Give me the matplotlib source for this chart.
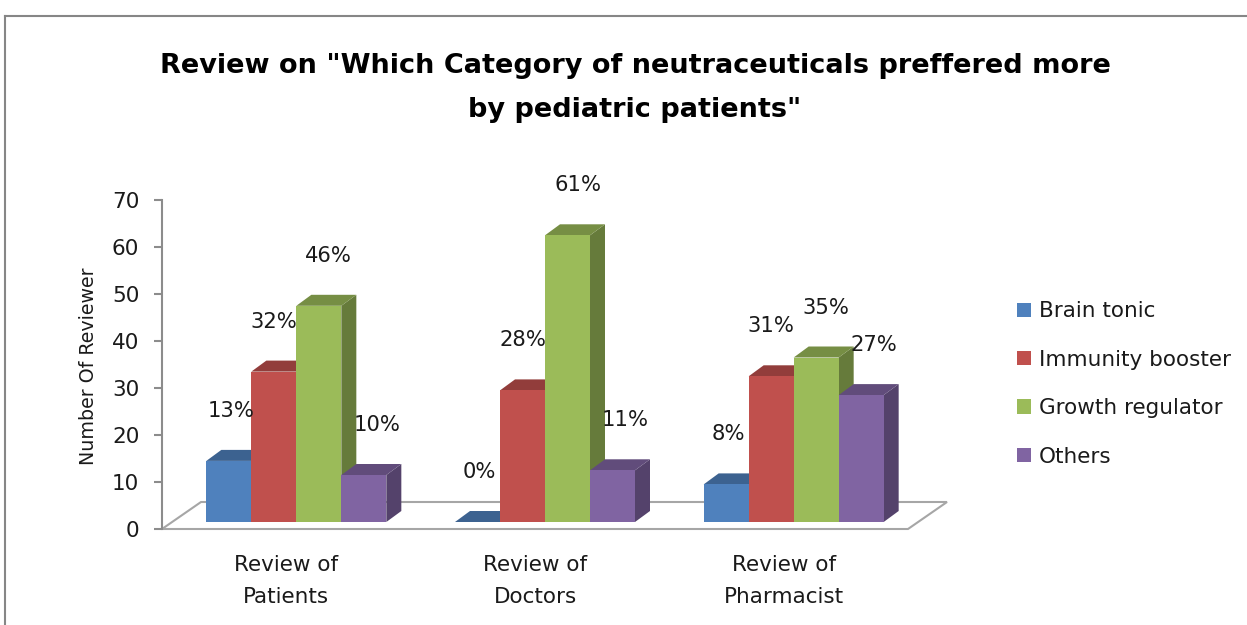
"""Review chart: which category of nutraceuticals is preferred by pediatric patients.

Excel-style 3D clustered columns, faked in 2D: front face via ax.bar, then
top and side faces as parallelograms offset by a fixed pixel depth.
"""

import matplotlib

matplotlib.use("Agg")
import matplotlib.pyplot as plt
from matplotlib.lines import Line2D
from matplotlib.patches import Patch

categories = ["Review of\nPatients", "Review of\nDoctors", "Review of\nPharmacist"]
series_names = ["Brain tonic", "Immunity booster", "Growth regulator", "Others"]
brain_tonic = [13, 0, 8]
immunity_booster = [32, 28, 31]
growth_regulator = [46, 61, 35]
others = [10, 11, 27]
series_values = [brain_tonic, immunity_booster, growth_regulator, others]

title_lines = ['Review on "Which Category of neutraceuticals preffered more',
               'by pediatric patients"']
y_label = "Number Of Reviewer"

colors = ["#4F81BD", "#C0504D", "#9BBB59", "#8064A2"]

W, H = 1247, 625
plt.rcParams["font.family"] = "DejaVu Sans"


def shade(hex_color, k):
    r, g, b = (int(hex_color[i:i + 2], 16) for i in (1, 3, 5))
    return (r * k / 255, g * k / 255, b * k / 255)


fig = plt.figure(figsize=(W / 100, H / 100), dpi=100)
ax = fig.add_axes([162 / W, (H - 529) / H, 746 / W, 329 / H])
ax.set_xlim(-0.5, 2.5)
ax.set_ylim(0, 70)

# pixel -> data units
ux = 3 / 746
uy = 70 / 329

bar_w = 45 * ux
shift = 10 * ux
base = 7 * uy
dx, dy = 15 * ux, 11 * uy
fdx, fdy = 39 * ux, 27 * uy

# floor
ax.fill([-0.5, 2.5, 2.5 + fdx, -0.5 + fdx], [0, 0, fdy, fdy],
        facecolor="white", edgecolor="#A6A6A6", lw=1.5, zorder=1, clip_on=False)

label_dx = [2, 0, 10, 13]
for j, (vals, c) in enumerate(zip(series_values, colors)):
    lefts = [i + shift + (j - 2) * bar_w for i in range(len(categories))]
    z = 3 + j
    ax.bar(lefts, vals, width=bar_w, bottom=base, align="edge", color=c,
           edgecolor="none", zorder=z + 0.02)
    for x0, v in zip(lefts, vals):
        top = base + v
        ax.fill([x0 + bar_w, x0 + bar_w + dx, x0 + bar_w + dx, x0 + bar_w],
                [base, base + dy, top + dy, top],
                color=shade(c, 0.66), lw=0, zorder=z)
        ax.fill([x0, x0 + bar_w, x0 + bar_w + dx, x0 + dx],
                [top, top, top + dy, top + dy],
                color=shade(c, 0.76), lw=0, zorder=z + 0.01)
        ax.annotate(f"{v}%", xy=(x0 + bar_w / 2, top),
                    xytext=(label_dx[j], 50), textcoords="offset pixels",
                    ha="center", va="center", fontsize=15.2, color="#1a1a1a",
                    zorder=10)

for s in ["top", "right", "bottom"]:
    ax.spines[s].set_visible(False)
ax.spines["left"].set_color("#8C8C8C")
ax.spines["left"].set_linewidth(1.5)
ax.spines["left"].set_zorder(2)

ax.set_yticks(range(0, 71, 10))
ax.tick_params(axis="y", length=5.8, width=1.5, color="#8C8C8C", pad=10.5,
               labelsize=15.5, labelcolor="#1a1a1a")
ax.set_xticks(range(len(categories)))
ax.set_xticklabels(categories, fontsize=15.5, color="#1a1a1a", linespacing=1.72)
ax.tick_params(axis="x", length=0, pad=19)

fig.text(88 / W, 1 - 366 / H, y_label, rotation=90, ha="center", va="center",
         fontsize=13.7, color="#1a1a1a")

fig.text(635 / W, 1 - 73 / H, title_lines[0], ha="center", va="baseline",
         fontsize=19.5, fontweight="bold")
fig.text(635 / W, 1 - 117 / H, title_lines[1], ha="center", va="baseline",
         fontsize=19.5, fontweight="bold")

handles = [Patch(facecolor=c, edgecolor="none") for c in colors]
fig.legend(handles, series_names, loc="center left",
           bbox_to_anchor=(1017 / W, 1 - 384 / H), frameon=False,
           fontsize=15.5, handlelength=0.65, handleheight=0.65,
           handletextpad=0.35, labelspacing=1.32, borderpad=0, borderaxespad=0,
           labelcolor="#1a1a1a")

# chart-area border (top and left edges visible in the crop)
fig.add_artist(Line2D([5 / W, 5 / W], [0, 1 - 16 / H], transform=fig.transFigure,
                      color="#868686", lw=1.5))
fig.add_artist(Line2D([5 / W, 1], [1 - 16 / H, 1 - 16 / H], transform=fig.transFigure,
                      color="#868686", lw=1.5))

fig.savefig("out.png", dpi=100)
